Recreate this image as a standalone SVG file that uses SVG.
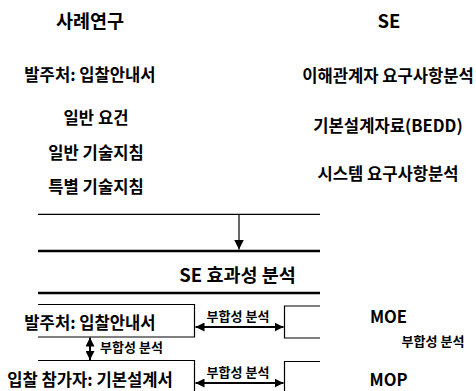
<svg xmlns="http://www.w3.org/2000/svg" width="476" height="391" viewBox="0 0 476 391">
<defs>
<marker id="ah" viewBox="0 0 10 10" refX="10" refY="5" markerWidth="4.5" markerHeight="4.5" orient="auto-start-reverse" markerUnits="strokeWidth">
<path d="M0,0 L10,5 L0,10 Z" fill="#000"/>
</marker>
<marker id="ahd" viewBox="0 0 10 10" refX="10" refY="5" markerWidth="8" markerHeight="8" orient="auto" markerUnits="strokeWidth">
<path d="M0,0 L10,5 L0,10 Z" fill="#000"/>
</marker>
<style>
text{font-family:"Malgun Gothic","Noto Sans CJK KR",sans-serif;font-weight:bold;fill:#000;text-anchor:middle;dominant-baseline:central}
.t{font-size:18.5px}
.m{font-size:16.6px}
.h{font-size:18.5px}
.s{font-size:13px}
.thin{stroke:#000;stroke-width:1.2;fill:none}
.thick{stroke:#000;stroke-width:2.4;fill:none}
.box{stroke:#000;stroke-width:1.2;fill:none}
.arr{stroke:#000;stroke-width:2;fill:none}
</style>
</defs>
<g id="col-case">
<text class="t" x="90" y="20">사례연구</text>
<text class="m" x="90" y="74">발주처: 입찰안내서</text>
<text class="m" x="96" y="117">일반 요건</text>
<text class="m" x="96" y="152">일반 기술지침</text>
<text class="m" x="96" y="186">특별 기술지침</text>
</g>
<g id="col-se">
<text class="t" x="389" y="20">SE</text>
<text class="m" x="388" y="75">이해관계자 요구사항분석</text>
<text class="m" x="388" y="125">기본설계자료(BEDD)</text>
<text class="m" x="388" y="173">시스템 요구사항분석</text>
</g>
<g id="effect-band">
<line class="thin" x1="38" y1="214.3" x2="320" y2="214.3"/>
<line class="thick" x1="38" y1="251" x2="320" y2="251"/>
<text class="h" x="237.5" y="274">SE 효과성 분석</text>
<line class="thick" x1="38" y1="293" x2="320" y2="293"/>
</g>
<g id="box-client">
<path class="box" d="M38,304.5 H194.5 V337 H38"/>
<text class="m" x="90" y="322">발주처: 입찰안내서</text>
</g>
<g id="box-bidder">
<path class="box" d="M38,360.5 H194.5 V392"/>
<text class="m" x="90" y="379">입찰 참가자: 기본설계서</text>
</g>
<g id="box-moe-slot">
<path class="box" d="M320,306 H284.5 V338 H320"/>
</g>
<g id="box-mop-slot">
<path class="box" d="M320,361.5 H284.5 V392"/>
</g>
<g id="labels-right">
<text class="m" x="388.5" y="316">MOE</text>
<text class="s" x="433" y="340">부합성 분석</text>
<text class="m" x="388.5" y="379">MOP</text>
</g>
<g id="connectors">
<line class="thin" x1="239" y1="214.3" x2="239" y2="249.5" marker-end="url(#ahd)"/>
<line class="arr" x1="195.5" y1="327" x2="283.5" y2="327" marker-start="url(#ah)" marker-end="url(#ah)"/>
<text class="s" x="238" y="315">부합성 분석</text>
<line class="arr" x1="195.5" y1="383" x2="283.5" y2="383" marker-start="url(#ah)" marker-end="url(#ah)"/>
<text class="s" x="238" y="371">부합성 분석</text>
<line class="arr" x1="90" y1="337.5" x2="90" y2="360" marker-start="url(#ah)" marker-end="url(#ah)"/>
<text class="s" x="131.5" y="346">부합성 분석</text>
</g>
</svg>
